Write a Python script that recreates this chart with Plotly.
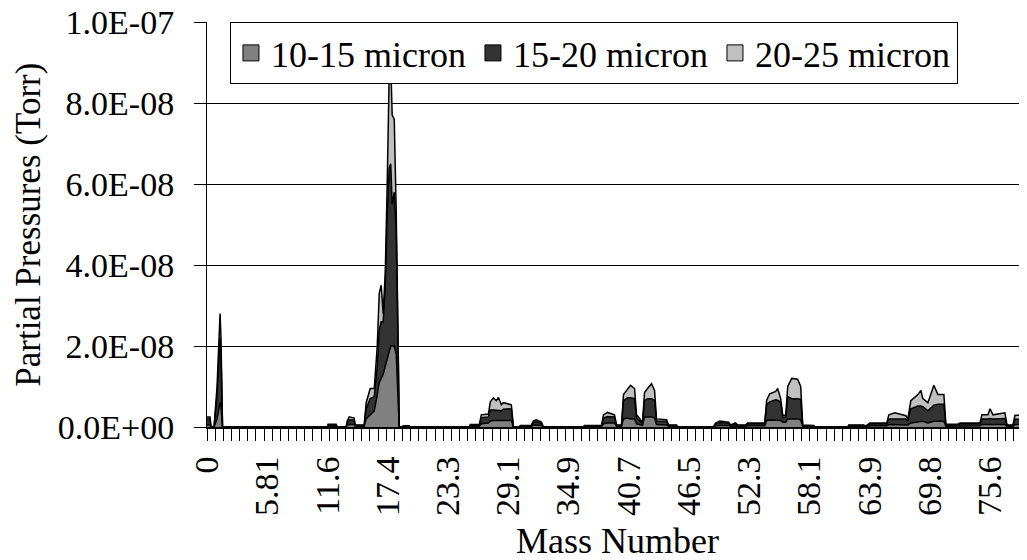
import plotly.graph_objects as go

# Mass number (amu) breakpoints and partial pressures (units of 1e-8 Torr)
mass = [0.00, 0.29, 0.39, 0.68, 0.97, 1.26, 1.35, 1.50,
        11.59, 11.69, 12.46, 12.56,
        13.43, 13.53, 13.72, 14.20, 14.30, 15.17,
        15.36, 15.75, 16.14, 16.43, 16.62, 16.81, 17.00, 17.20, 17.39, 17.58, 17.73,
        17.87, 18.07, 18.26, 18.45, 18.55,
        18.84, 18.94, 19.52, 19.61,
        25.31, 25.41, 26.28, 26.47, 27.15, 27.34, 27.63, 27.92, 28.12, 28.41, 28.60,
        28.89, 29.37, 29.57,
        30.14, 30.24, 31.30, 31.50, 31.79, 32.27, 32.46,
        36.33, 36.43, 38.07, 38.26, 38.65, 39.32, 39.52, 40.00, 40.19, 40.58, 40.87,
        41.26, 41.45, 42.03, 42.22, 42.51, 42.90, 43.19, 43.38, 44.35, 44.54, 45.31, 45.41,
        48.89, 49.08, 49.47, 50.34, 50.53, 51.01, 51.21, 51.98, 52.17, 53.82,
        54.01, 54.30, 54.88, 55.07, 55.36, 55.56, 55.85, 56.04, 56.43, 57.00, 57.29,
        57.49, 58.55, 58.65,
        61.84, 61.93, 63.38, 63.57, 63.96, 65.60, 65.80, 66.38, 67.44, 67.63,
        67.92, 68.60, 68.89, 69.08, 69.57, 70.14, 70.53, 71.11, 71.30,
        72.46, 72.66, 74.59, 74.78, 75.36, 75.56, 75.85, 77.00, 77.20, 77.78, 77.97, 79.13]

p_10_15 = [0.05, 0.05, 0, 0, 0.20, 0.60, 0.50, 0,
           0, 0.02, 0.02, 0,
           0, 0.04, 0.06, 0.06, 0.02, 0.02,
           0.20, 0.30, 0.40, 0.80, 1.10, 1.20, 1.30, 1.50, 1.70, 1.90, 2.00,
           2.00, 2.00, 1.80, 0.80, 0,
           0, 0.01, 0.01, 0,
           0, 0.02, 0.02, 0.08, 0.10, 0.15, 0.16, 0.16, 0.16, 0.15, 0.16,
           0.16, 0.16, 0,
           0, 0.01, 0.01, 0.05, 0.05, 0.04, 0,
           0, 0.01, 0.01, 0.08, 0.10, 0.10, 0.02, 0.02, 0.20, 0.22, 0.20,
           0.20, 0.08, 0.04, 0.25, 0.25, 0.25, 0.22, 0.06, 0.05, 0.02, 0.02, 0,
           0, 0.03, 0.04, 0.04, 0.02, 0.03, 0.02, 0.02, 0.03, 0.03,
           0.16, 0.17, 0.17, 0.16, 0.16, 0.12, 0.12, 0.20, 0.20, 0.20, 0.18,
           0.02, 0.01, 0,
           0, 0.02, 0.02, 0.01, 0.03, 0.03, 0.06, 0.06, 0.06, 0.05,
           0.10, 0.12, 0.14, 0.14, 0.10, 0.14, 0.14, 0.14, 0.02,
           0.02, 0.03, 0.03, 0.06, 0.06, 0.06, 0.06, 0.06, 0.02, 0.02, 0.06, 0.06]

p_15_20 = [0.15, 0.15, 0, 0, 0.60, 1.60, 1.30, 0,
           0, 0.03, 0.03, 0,
           0, 0.07, 0.12, 0.11, 0.02, 0.02,
           0.25, 0.40, 0.35, 0.70, 1.30, 1.40, 1.30, 2.00, 3.50, 4.50, 4.50,
           3.50, 3.80, 3.00, 1.00, 0,
           0, 0.01, 0.01, 0,
           0, 0.02, 0.02, 0.15, 0.15, 0.27, 0.26, 0.25, 0.26, 0.25, 0.28,
           0.29, 0.29, 0,
           0, 0.02, 0.02, 0.07, 0.08, 0.05, 0,
           0, 0.02, 0.02, 0.14, 0.16, 0.15, 0.02, 0.02, 0.45, 0.50, 0.52,
           0.50, 0.15, 0.05, 0.40, 0.45, 0.45, 0.44, 0.09, 0.09, 0.02, 0.02, 0,
           0, 0.05, 0.07, 0.05, 0.02, 0.05, 0.02, 0.02, 0.05, 0.05,
           0.40, 0.45, 0.50, 0.50, 0.45, 0.12, 0.12, 0.55, 0.50, 0.50, 0.50,
           0.02, 0.02, 0,
           0, 0.02, 0.02, 0.01, 0.05, 0.05, 0.14, 0.14, 0.14, 0.10,
           0.35, 0.40, 0.38, 0.36, 0.30, 0.40, 0.42, 0.42, 0.03,
           0.03, 0.05, 0.05, 0.14, 0.14, 0.15, 0.14, 0.15, 0.02, 0.02, 0.13, 0.13]

p_20_25 = [0.05, 0.05, 0, 0, 0.20, 0.60, 0.40, 0,
           0, 0.02, 0.02, 0,
           0, 0.04, 0.07, 0.05, 0.01, 0.01,
           0.15, 0.25, 0.20, 0.50, 0.90, 0.90, 0.20, 0.30, 0.80, 2.30, 2.50,
           2.20, 1.80, 0.50, 0.20, 0,
           0, 0.01, 0.01, 0,
           0, 0.02, 0.02, 0.07, 0.07, 0.20, 0.30, 0.24, 0.31, 0.15, 0.16,
           0.13, 0.10, 0,
           0, 0.01, 0.01, 0.03, 0.05, 0.03, 0,
           0, 0.01, 0.01, 0.08, 0.10, 0.05, 0.01, 0.01, 0.15, 0.23, 0.31,
           0.25, 0.07, 0.03, 0.20, 0.25, 0.37, 0.24, 0.05, 0.04, 0.01, 0.01, 0,
           0, 0.02, 0.04, 0.03, 0.01, 0.02, 0.01, 0.01, 0.02, 0.02,
           0.10, 0.20, 0.21, 0.29, 0.09, 0.05, 0.05, 0.25, 0.50, 0.48, 0.32,
           0.01, 0.01, 0,
           0, 0.01, 0.01, 0, 0.02, 0.02, 0.10, 0.15, 0.08, 0.05,
           0.20, 0.28, 0.38, 0.20, 0.20, 0.49, 0.24, 0.24, 0.02,
           0.02, 0.02, 0.02, 0.10, 0.10, 0.24, 0.10, 0.14, 0.01, 0.01, 0.10, 0.10]

series_names = ["10-15 micron", "15-20 micron", "20-25 micron"]
series_colors = ["#808080", "#333333", "#c0c0c0"]

tick_labels = ["0", "5.81", "11.6", "17.4", "23.3", "29.1", "34.9", "40.7",
               "46.5", "52.3", "58.1", "63.9", "69.8", "75.6"]
tick_positions = [0, 5.8125, 11.625, 17.4375, 23.25, 29.0625, 34.875, 40.6875,
                  46.5, 52.3125, 58.125, 63.9375, 69.75, 75.5625]
y_ticks = [0, 2e-8, 4e-8, 6e-8, 8e-8, 1e-7]
y_tick_labels = ["0.0E+00", "2.0E-08", "4.0E-08", "6.0E-08", "8.0E-08", "1.0E-07"]
x_title = "Mass Number"
y_title = "Partial Pressures (Torr)"

FONT = "Liberation Serif"
fig = go.Figure()
for name, col, vals in zip(series_names, series_colors, [p_10_15, p_15_20, p_20_25]):
    fig.add_trace(go.Scatter(
        x=mass, y=[v * 1e-8 for v in vals], mode="lines", stackgroup="one",
        line=dict(color="black", width=1.5), fillcolor=col, name=name,
        showlegend=False, hoverinfo="skip"))
for name, col in zip(series_names, series_colors):
    fig.add_trace(go.Scatter(
        x=[None], y=[None], mode="markers", name=name,
        marker=dict(symbol="square", size=16, color=col,
                    line=dict(color="black", width=1))))

# the page body adds an 8px offset, so the figure is 8px smaller and margins shifted
fig.update_layout(
    width=1019, height=552,
    margin=dict(l=199, r=0, t=14, b=133),
    paper_bgcolor="white", plot_bgcolor="white",
    font=dict(family=FONT, size=34, color="black"),
    showlegend=True,
    legend=dict(orientation="h", x=0.028, y=1.0, xanchor="left", yanchor="top",
                bgcolor="white", bordercolor="black", borderwidth=1,
                font=dict(family=FONT, size=36), itemwidth=30,
                entrywidth=197, entrywidthmode="pixels",
                traceorder="normal", tracegroupgap=0),
    annotations=[
        dict(text=x_title, xref="paper", yref="paper", x=0.5, y=-0.2815,
             xanchor="center", yanchor="middle", showarrow=False,
             font=dict(family=FONT, size=36)),
        dict(text=y_title, xref="paper", yref="paper", x=-0.218, y=0.5,
             xanchor="center", yanchor="middle", showarrow=False, textangle=-90,
             font=dict(family=FONT, size=35)),
    ],
)
fig.update_xaxes(
    range=[0, 79.13], tickmode="array", tickvals=tick_positions, ticktext=tick_labels,
    tickangle=-90, ticks="", showgrid=False, zeroline=False, automargin=False,
    showline=True, linecolor="black", linewidth=2,
    ticklabelstandoff=14, ticklabeloverflow="allow",
    minor=dict(ticks="outside", ticklen=12, tickcolor="black", tickwidth=1,
               dtick=0.786, tick0=0, showgrid=False),
    tickfont=dict(family=FONT, size=34),
)
fig.update_yaxes(
    range=[0, 1.0001e-7], tickmode="array", tickvals=y_ticks, ticktext=y_tick_labels,
    ticks="outside", ticklen=12, tickcolor="black", automargin=False,
    showgrid=True, gridcolor="black", gridwidth=1, zeroline=False,
    showline=True, linecolor="black", linewidth=1,
    ticklabelstandoff=13, ticklabeloverflow="allow",
    tickfont=dict(family=FONT, size=34),
)
fig.write_html("out.html")
